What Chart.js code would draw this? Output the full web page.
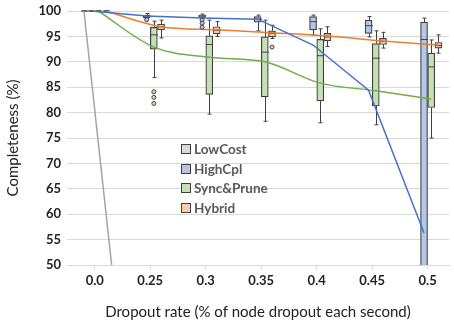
<!DOCTYPE html>
<html>
<head>
<meta charset="utf-8">
<script src="https://cdn.jsdelivr.net/npm/chart.js@4.4.0/dist/chart.umd.min.js"></script>
<style>
  body { margin: 0; background: #fff; }
  #wrap { position: relative; width: 454px; height: 325px; overflow: hidden; }
  canvas { display: block; }
  #legend { position: absolute; left: 181px; top: 139px; font: bold 13.5px Lato, sans-serif; color: #595959; }
  #legend .item { height: 19.8px; display: flex; align-items: center; }
  #legend .sw { width: 8px; height: 8px; border: 1px solid #404040; margin-right: 3px; }
</style>
</head>
<body>
<div id="wrap">
  <canvas id="chart" width="454" height="325"></canvas>
  <div id="legend"></div>
</div>
<script>
const categories = ['0.0', '0.25', '0.3', '0.35', '0.4', '0.45', '0.5'];
const seriesNames = ['LowCost', 'HighCpl', 'Sync&Prune', 'Hybrid'];
const lineColors = ['#a5a5a5', '#4472c4', '#70ad47', '#ed7d31'];
const fillColors = ['#d9d9d9', '#b4c7e7', '#c5e0b4', '#f8cbad'];
const offsets = [-0.195, -0.065, 0.065, 0.195];

// [min, q1, median, q3, max] per dropout rate
const lowCostBoxes = [[100, 100, 100, 100, 100], [0, 0, 0, 0, 0], [0, 0, 0, 0, 0], [0, 0, 0, 0, 0], [0, 0, 0, 0, 0], [0, 0, 0, 0, 0], [0, 0, 0, 0, 0]];
const highCplBoxes = [[100, 100, 100, 100, 100], [98.7, 98.7, 99.0, 99.2, 99.5], [98.7, 98.8, 99.0, 99.2, 99.4], [96.1, 97.8, 98.4, 98.9, 99.2], [95.3, 96.3, 97.9, 98.9, 99.2], [94.9, 95.6, 97.1, 98.2, 98.9], [0, 20, 94.4, 97.8, 98.6]];
const syncPruneBoxes = [[100, 100, 100, 100, 100], [86.9, 92.5, 95.3, 96.8, 98.0], [79.7, 83.6, 93.4, 95.1, 98.2], [78.3, 83.1, 91.9, 94.9, 98.2], [78.0, 82.3, 91.2, 94.4, 96.5], [77.6, 81.3, 90.7, 93.6, 96.1], [75.0, 81.0, 89.0, 91.7, 94.3]];
const hybridBoxes = [[100, 100, 100, 100, 100], [94.7, 96.3, 96.9, 97.4, 98.2], [95.0, 95.5, 96.2, 96.9, 97.9], [94.6, 94.9, 95.6, 96.1, 97.2], [93.0, 94.1, 94.9, 95.6, 96.9], [92.7, 93.4, 94.0, 94.6, 95.8], [91.7, 92.7, 93.2, 93.8, 95.3]];

const lowCostMeans = [100, 0, 0, 0, 0, 0, 0];
const highCplMeans = [100, 99.0, 98.6, 98.4, 93.3, 84.4, 56.3];
const syncPruneMeans = [100, 92.9, 90.9, 90.0, 85.8, 84.3, 82.7];
const hybridMeans = [100, 96.9, 96.3, 95.7, 95.1, 94.1, 93.3];

const lowCostOutliers = [[], [], [], [], [], [], []];
const highCplOutliers = [[], [98.3], [98.2, 97.6, 96.8], [], [], [], []];
const syncPruneOutliers = [[], [84.1, 83.0, 81.8], [], [], [], [], []];
const hybridOutliers = [[], [], [], [92.9], [], [], []];

const boxes = [lowCostBoxes, highCplBoxes, syncPruneBoxes, hybridBoxes];
const means = [lowCostMeans, highCplMeans, syncPruneMeans, hybridMeans];
const outliers = [lowCostOutliers, highCplOutliers, syncPruneOutliers, hybridOutliers];
const smooth = [false, false, true, true];

const datasets = [];
seriesNames.forEach((name, s) => {
  datasets.push({
    type: 'bar',
    label: name,
    order: 2,
    data: boxes[s].map((b, i) => ({ x: i + offsets[s], y: [b[1], b[3]] })),
    box: boxes[s],
    boxOffset: offsets[s],
    backgroundColor: fillColors[s],
    borderColor: '#404040',
    borderWidth: 1.2,
    borderSkipped: false,
    barThickness: 7,
    grouped: false
  });
  datasets.push({
    type: 'line',
    label: name + ' mean',
    order: 1,
    data: means[s].map((m, i) => ({ x: i + offsets[s], y: m })),
    borderColor: lineColors[s],
    borderWidth: 1.5,
    pointRadius: 0,
    cubicInterpolationMode: smooth[s] ? 'monotone' : 'default',
    tension: smooth[s] ? 0.4 : 0,
    fill: false
  });
  const pts = [];
  outliers[s].forEach((list, i) => list.forEach(v => pts.push({ x: i + offsets[s], y: v })));
  datasets.push({
    type: 'line',
    label: name + ' outliers',
    order: 0,
    showLine: false,
    data: pts,
    pointRadius: 2,
    pointBackgroundColor: fillColors[s],
    pointBorderColor: '#404040',
    pointBorderWidth: 1
  });
});

// whiskers and median line for each box
const boxWhiskers = {
  id: 'boxWhiskers',
  afterDatasetDraw(chart, args) {
    const ds = chart.data.datasets[args.index];
    if (!ds.box) return;
    const { ctx, chartArea, scales: { x, y } } = chart;
    ctx.save();
    ctx.beginPath();
    ctx.rect(chartArea.left, chartArea.top - 3, chartArea.width, chartArea.height + 3);
    ctx.clip();
    ctx.strokeStyle = '#404040';
    ctx.lineWidth = 1;
    ds.box.forEach((b, i) => {
      const cx = Math.round(x.getPixelForValue(i + ds.boxOffset)) + 0.5;
      const [lo, q1, med, q3, hi] = b.map(v => y.getPixelForValue(v));
      ctx.beginPath();
      ctx.moveTo(cx, q3); ctx.lineTo(cx, hi);
      ctx.moveTo(cx - 2, hi); ctx.lineTo(cx + 2, hi);
      ctx.moveTo(cx, q1); ctx.lineTo(cx, lo);
      ctx.moveTo(cx - 2, lo); ctx.lineTo(cx + 2, lo);
      ctx.moveTo(cx - 3.5, med); ctx.lineTo(cx + 3.5, med);
      ctx.stroke();
    });
    ctx.restore();
  }
};

new Chart(document.getElementById('chart'), {
  type: 'bar',
  data: { datasets },
  plugins: [boxWhiskers],
  options: {
    responsive: false,
    animation: false,
    layout: { padding: { top: 11, right: 0, left: 0, bottom: 0 } },
    plugins: { legend: { display: false }, tooltip: { enabled: false } },
    scales: {
      x: {
        type: 'linear',
        offset: false,
        min: -0.5,
        max: 6.385,
        afterBuildTicks: s => { s.ticks = categories.map((c, i) => ({ value: i })); },
        afterFit: s => { s.height = 60; },
        ticks: {
          callback: v => categories[v],
          font: { family: 'Lato', size: 13, weight: 'bold' },
          color: '#222',
          padding: 4,
          maxRotation: 0
        },
        grid: { drawOnChartArea: false, tickLength: 4, color: '#d9d9d9', offset: false },
        border: { color: '#d9d9d9' },
        title: {
          display: true,
          text: 'Dropout rate (% of node dropout each second)',
          font: { family: 'Lato', size: 15 },
          color: '#222',
          padding: { top: 6 }
        }
      },
      y: {
        min: 50,
        max: 100,
        afterFit: s => { s.width = 67; s.paddingTop = 0; s.paddingBottom = 0; },
        ticks: {
          stepSize: 5,
          font: { family: 'Lato', size: 13, weight: 'bold' },
          color: '#222',
          padding: 6
        },
        grid: { color: '#d9d9d9', drawTicks: false },
        border: { display: false },
        title: {
          display: true,
          text: 'Completeness (%)',
          font: { family: 'Lato', size: 15 },
          color: '#222',
          padding: { bottom: 4 }
        }
      }
    }
  }
});

const legend = document.getElementById('legend');
seriesNames.forEach((name, s) => {
  const row = document.createElement('div');
  row.className = 'item';
  row.innerHTML = `<span class="sw" style="background:${fillColors[s]}"></span><span></span>`;
  row.lastChild.textContent = name;
  legend.appendChild(row);
});
</script>
</body>
</html>
